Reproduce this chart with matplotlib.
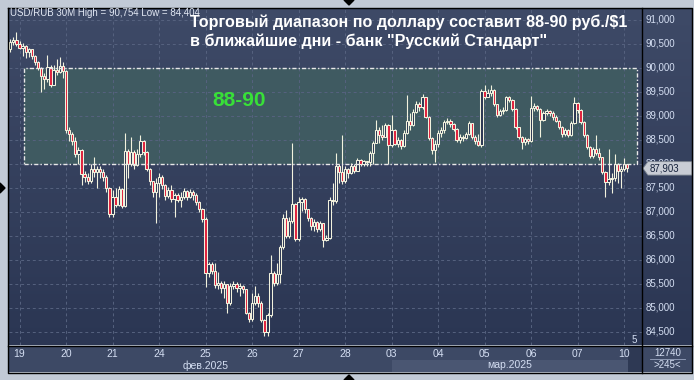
import matplotlib
matplotlib.use('Agg')
import matplotlib.pyplot as plt
from matplotlib.patches import Rectangle, Polygon
from matplotlib.colors import LinearSegmentedColormap
import numpy as np

# USD/RUB 30M candles
day_labels = ['19', '20', '21', '24', '25', '26', '27', '28',
              '03', '04', '05', '06', '07', '10']
first_day = 3      # candle index where day "19" starts
per_day = 15       # candles per trading day
month_labels = [('фев.2025', 0, 8), ('мар.2025', 8, 14)]

open0 = 90380
close = [
    90540, 90580, 90500,
    90420, 90460, 90330, 90380, 90240, 90120, 90000, 89830, 89770, 90020, 89640, 89950, 89920, 90040, 89930,
    88700, 88620, 88480, 88200, 88280, 87780, 87720, 87650, 87880, 87820, 87900, 87830, 87720, 87500, 86950,
    87300, 87140, 87480, 87110, 88260, 88000, 88250, 87980, 88200, 88470, 88250, 87900, 87630, 87420, 87600,
    87720, 87560, 87320, 87460, 87260, 87340, 87250, 87300, 87440, 87300, 87420, 87350, 87200, 87060, 86840,
    85720, 85920, 85760, 85480, 85520, 85420, 85500, 85100, 85460, 85500, 85420, 85460, 85380, 84880, 84760,
    85100, 85240, 85100, 84740, 84500, 84850, 85720, 85520, 85700, 86260, 86860, 86500, 86800, 87160, 86430,
    87200, 87270, 87050, 86860, 86700, 86780, 86640, 86760, 86420, 86460, 87240, 87220, 87960, 87820, 87650,
    87880, 87800, 87960, 87850, 88080, 88000, 88050, 88030, 88220, 88440, 88700, 88600, 88560, 88800, 88380,
    88700, 88420, 88500, 88360, 88640, 88880, 88800, 89080, 89250, 89180, 89380, 88980, 88540, 88280, 88420,
    88640, 88700, 88870, 88900, 88820, 88720, 88500, 88560, 88540, 88620, 88840, 88560, 88480, 88390, 89520,
    89400, 89480, 89540, 89240, 89020, 89100, 89120, 89380, 89330, 89150, 88760, 88560, 88460, 88520, 88480,
    89160, 89200, 89140, 88920, 89060, 89100, 89060, 88980, 88900, 88760, 88620, 88700, 88600, 88850, 89260,
    89120, 88860, 88600, 88340, 88160, 88300, 88230, 88130, 87820, 87610, 87680, 87700, 88000, 87840, 87900,
    87990, 87903,
]
high = [
    90600, 90640, 90754,
    90560, 90520, 90480, 90420, 90400, 90260, 90150, 90020, 89900, 90260, 90050, 90060, 90180, 90220, 90120,
    89950, 88760, 88660, 88560, 88340, 88300, 87840, 87800, 88000, 88140, 87960, 87950, 87900, 87760, 87520,
    87460, 87490, 87540, 87500, 88640, 88300, 88560, 88280, 88300, 88600, 88490, 88260, 87920, 87650, 87700,
    87800, 87760, 87580, 87520, 87560, 87400, 87380, 87420, 87500, 87460, 87480, 87450, 87380, 87220, 87080,
    86890, 85960, 85950, 85930, 85740, 85560, 85560, 85480, 85520, 85560, 85540, 85520, 85480, 85400, 84920,
    85300, 85460, 85300, 85130, 84760, 84900, 86090, 85760, 85930, 86300, 86950, 87035, 86900, 88430, 87180,
    87300, 87300, 87280, 87060, 86880, 86850, 86800, 86800, 86770, 86520, 87300, 87600, 88220, 88000, 88590,
    87950, 87920, 88020, 88000, 88120, 88100, 88080, 88060, 88260, 88480, 88910, 88760, 88800, 88850, 88820,
    89010, 88720, 88560, 88520, 88700, 89430, 89050, 89150, 89300, 89280, 89450, 89400, 89000, 88560, 88500,
    88700, 88760, 88920, 88960, 88930, 88850, 88740, 88620, 88600, 88660, 88880, 88840, 88600, 88620, 89560,
    89640, 89560, 89650, 89560, 89250, 89140, 89180, 89420, 89420, 89340, 89160, 88760, 88580, 88560, 88540,
    89420, 89260, 89230, 89160, 89100, 89140, 89120, 89100, 89010, 88910, 88780, 88740, 88720, 88900, 89400,
    89280, 89130, 88880, 88620, 88360, 88340, 88600, 88320, 88140, 87840, 88300, 87800, 88200, 88020, 87960,
    88120, 88000,
]
low = [
    90330, 90480, 90450,
    90380, 90250, 90200, 90220, 90180, 90050, 89950, 89490, 89550, 89700, 89600, 89640, 89850, 89880, 89780,
    88650, 88480, 88400, 88140, 88000, 87550, 87620, 87580, 87600, 87720, 87500, 87700, 87650, 87420, 86880,
    86900, 87100, 87120, 87080, 87100, 87700, 87960, 87900, 87950, 88150, 88180, 87850, 87560, 87300, 86760,
    87300, 87480, 87250, 87280, 87200, 86880, 87200, 87100, 87260, 87250, 87280, 87250, 87150, 87000, 86780,
    85430, 85650, 85700, 85420, 85380, 85300, 85200, 84900, 85050, 85380, 85320, 85250, 85300, 84860, 84700,
    84720, 85060, 85020, 84700, 84404, 84420, 84800, 85460, 85480, 85520, 86230, 86450, 86460, 86760, 86380,
    86400, 87020, 86980, 86800, 86620, 86600, 86580, 86600, 86260, 86380, 86440, 87150, 87180, 87600, 87580,
    87600, 87700, 87780, 87800, 87840, 87950, 87960, 87950, 87960, 88000, 88430, 88440, 88500, 88550, 88000,
    88350, 88380, 88340, 88300, 88340, 88620, 88700, 88780, 89050, 89100, 89150, 88950, 88500, 88200, 88030,
    88350, 88560, 88650, 88820, 88760, 88680, 88450, 88440, 88480, 88520, 88600, 88520, 88420, 88360, 88340,
    89350, 89380, 89420, 89200, 88980, 89000, 89040, 89100, 89280, 89100, 88720, 88520, 88300, 88400, 88420,
    88460, 89100, 89100, 88560, 88880, 89020, 89000, 88920, 88860, 88720, 88560, 88580, 88560, 88580, 88830,
    89050, 88820, 88560, 88300, 88120, 88120, 88180, 88080, 87780, 87300, 87560, 87400, 87650, 87600, 87500,
    87850, 87820,
]
opens = [open0] + close[:-1]

range_lo, range_hi = 88000, 90000
price_ticks = list(range(84500, 91001, 500))

W, H = 694, 380
bg_top, bg_bot = '#3e4a67', '#2b3653'
candle_edge = '#f2f2de'
bear_fill = '#e0203c'
txt_col = '#d4def2'

fig = plt.figure(figsize=(W / 100, H / 100), dpi=100)
fig.patch.set_facecolor('#c2cad6')

def px_axes(x0, y0, x1, y1):
    return fig.add_axes([x0 / W, 1 - y1 / H, (x1 - x0) / W, (y1 - y0) / H])

ymin, ymax = 84223, 91244
xmin, xmax = -0.39, 203.8
grad_cmap = LinearSegmentedColormap.from_list('bg', [bg_top, bg_bot])
grad = np.linspace(0, 1, 256).reshape(-1, 1)

# main chart
ax = px_axes(9, 8, 642, 345)
ax.set_xlim(xmin, xmax)
ax.set_ylim(ymin, ymax)
ax.imshow(grad, extent=[xmin, xmax, ymin, ymax], aspect='auto', cmap=grad_cmap,
          origin='upper', zorder=0)
ax.add_patch(Rectangle((4.45, range_lo), 202.2 - 4.45, range_hi - range_lo,
                       facecolor='#3f5a61', edgecolor='none', zorder=0.5))
ax.add_patch(Rectangle((4.45, range_lo), 202.2 - 4.45, range_hi - range_lo,
                       facecolor='none', edgecolor='#e8e8e8', lw=1.0,
                       linestyle=(0, (3, 1.5, 1, 1.5)), zorder=3))
day_pos = [first_day + per_day * k for k in range(len(day_labels))]
for p in price_ticks:
    ax.axhline(p, color='#56627f', lw=0.7, ls=(0, (3, 3)), zorder=1)
for d in day_pos:
    ax.axvline(d, color='#56627f', lw=0.7, ls=(0, (3, 3)), zorder=1)

idx = np.arange(len(close))
ax.vlines(idx, low, high, color=candle_edge, lw=0.8, zorder=2)
for i in idx:
    o, c = opens[i], close[i]
    bear = c < o
    ax.add_patch(Rectangle((i - 0.38, min(o, c)), 0.76, max(abs(c - o), 12),
                           facecolor=bear_fill if bear else bg_bot,
                           edgecolor=candle_edge, lw=0.75, zorder=2.5))
ax.set_xticks([])
ax.set_yticks([])
for s in ax.spines.values():
    s.set_visible(False)

# right price scale
ax_r = px_axes(643, 8, 692, 345)
ax_r.set_xlim(0, 1)
ax_r.set_ylim(ymin, ymax)
ax_r.imshow(grad, extent=[0, 1, ymin, ymax], aspect='auto', cmap=grad_cmap,
            origin='upper', zorder=0)
for p in price_ticks:
    ax_r.text(0.06, p, f'{p:,}', color=txt_col, fontsize=7, va='center',
              ha='left', family='Liberation Sans', zorder=1)
last = close[-1]
hh = 140
ax_r.add_patch(Polygon([(0.0, last), (0.1, last + hh), (1.0, last + hh),
                        (1.0, last - hh), (0.1, last - hh)], closed=True,
                       facecolor='#c9cdd5', edgecolor='#7d8590', lw=0.6, zorder=5))
ax_r.text(0.13, last, f'{last:,}', color='#14203a', fontsize=7, va='center',
          ha='left', family='Liberation Sans', zorder=6)
ax_r.axis('off')

# bottom date scale
ax_b = px_axes(9, 346, 642, 372)
ax_b.set_xlim(xmin, xmax)
ax_b.set_ylim(0, 1)
ax_b.set_facecolor('#3d4965')
ax_b.add_patch(Rectangle((day_pos[8], 0), 199.3 - day_pos[8], 0.45,
                         facecolor='#4a5672', edgecolor='none'))
ax_b.add_patch(Rectangle((199.3, 0), xmax - 199.3, 1.0,
                         facecolor='#2e3954', edgecolor='none'))
for d, lab in zip(day_pos, day_labels):
    ax_b.text(d, 0.68, lab, color=txt_col, fontsize=7.5, ha='center', va='center',
              family='Liberation Sans')
for name, a, b in month_labels:
    mid = (day_pos[a] + min(day_pos[b - 1] + per_day, 199.3)) / 2
    ax_b.text(mid, 0.25, name, color=txt_col, fontsize=7.5, ha='center',
              va='center', family='Liberation Sans')
ax_b.set_xticks([])
ax_b.set_yticks([])
for s in ax_b.spines.values():
    s.set_visible(False)

# bottom-right corner box
ax_c = px_axes(643, 346, 692, 372)
ax_c.set_xlim(0, 1)
ax_c.set_ylim(0, 1)
ax_c.set_facecolor('#3d4965')
ax_c.text(0.5, 0.74, '12740', color=txt_col, fontsize=7, ha='center', va='center',
          family='Liberation Sans')
ax_c.text(0.5, 0.25, '>245<', color=txt_col, fontsize=7, ha='center', va='center',
          family='Liberation Sans')
ax_c.plot([0.15, 0.85], [0.5, 0.5], color='#9aa6c0', lw=0.6)
ax_c.set_xticks([])
ax_c.set_yticks([])
for s in ax_c.spines.values():
    s.set_visible(False)

# overlay in pixel units for frame lines and captions
ov = fig.add_axes([0, 0, 1, 1], zorder=10)
ov.set_xlim(0, W)
ov.set_ylim(H, 0)
ov.axis('off')
ov.patch.set_alpha(0)
ov.plot([8, 692, 692, 8, 8], [7.5, 7.5, 372.5, 372.5, 7.5], color='black', lw=1)
ov.plot([642.5, 642.5], [7.5, 372.5], color='black', lw=1)
ov.plot([8, 692], [345.5, 345.5], color='black', lw=1)
ov.add_patch(Polygon([(344, 0), (354, 0), (349, 5)], color='black'))
ov.add_patch(Polygon([(344, 380), (354, 380), (349, 375)], color='black'))
ov.add_patch(Polygon([(0, 183), (0, 193), (5, 188)], color='black'))
ov.text(634, 340, '5', color=txt_col, fontsize=7, ha='center', va='center',
        family='Liberation Sans')

ov.text(10, 13.5, 'USD/RUB 30M High = 90,754 Low = 84,404', color='#e2e8f4',
        fontsize=7, va='center', ha='left', family='Liberation Sans')
ov.text(190, 15, 'Торговый диапазон по доллару составит 88-90 руб./$1\n'
        'в ближайшие дни - банк "Русский Стандарт"', color='white',
        fontsize=11.6, fontweight='bold', va='top', ha='left',
        family='Liberation Sans', linespacing=1.25)
ov.text(239, 100, '88-90', color='#38e038', fontsize=15, fontweight='bold',
        ha='center', va='center', family='Liberation Sans')

fig.savefig('out.png', dpi=100, facecolor=fig.get_facecolor())
